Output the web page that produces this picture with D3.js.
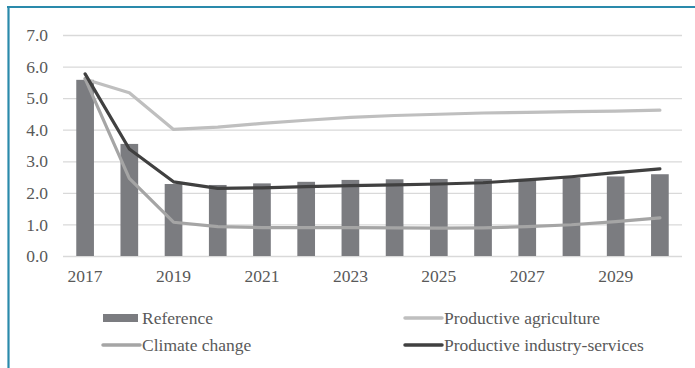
<!DOCTYPE html>
<html>
<head>
<meta charset="utf-8">
<script src="https://cdn.jsdelivr.net/npm/d3@7/dist/d3.min.js"></script>
<style>
  html, body { margin: 0; padding: 0; background: #fff; }
  svg { display: block; }
  svg text { font-family: "Liberation Serif", Tinos, "Times New Roman", "DejaVu Serif", serif !important; fill: #595959; }
</style>
</head>
<body>
<svg id="chart" width="695" height="368"></svg>
<script>
// Years on the category axis
const years = [2017, 2018, 2019, 2020, 2021, 2022, 2023, 2024, 2025, 2026, 2027, 2028, 2029, 2030];
const yTicks = [0, 1, 2, 3, 4, 5, 6, 7];

// Scenario series
const reference = [5.58, 3.55, 2.28, 2.25, 2.30, 2.35, 2.41, 2.43, 2.44, 2.44, 2.44, 2.48, 2.52, 2.59];
const productiveAgriculture = [5.60, 5.17, 4.01, 4.08, 4.20, 4.30, 4.39, 4.45, 4.49, 4.53, 4.55, 4.57, 4.59, 4.62];
const climateChange = [5.62, 2.46, 1.07, 0.93, 0.90, 0.90, 0.90, 0.89, 0.88, 0.89, 0.93, 0.99, 1.09, 1.21];
const productiveIndustry = [5.77, 3.39, 2.35, 2.14, 2.16, 2.20, 2.23, 2.25, 2.28, 2.32, 2.41, 2.51, 2.64, 2.76];

const FONT = '"Liberation Serif", Tinos, "Times New Roman", "DejaVu Serif", serif';
const svg = d3.select("#chart");

// Frame accents along the top and left edges
svg.append("line").attr("x1", 7).attr("x2", 695).attr("y1", 7).attr("y2", 7)
  .attr("stroke", "#2a8aab").attr("stroke-width", 2.2);
svg.append("line").attr("x1", 8.5).attr("x2", 8.5).attr("y1", 6).attr("y2", 368)
  .attr("stroke", "#2a8aab").attr("stroke-width", 2.2);

const plot = { left: 63, right: 682, top: 35, bottom: 256 };

const x = d3.scaleBand().domain(years).range([plot.left, plot.right]).paddingInner(0.6).paddingOuter(0.3);
const xc = d => x(d) + x.bandwidth() / 2;
const y = d3.scaleLinear().domain([0, 7]).range([plot.bottom, plot.top]);

// Horizontal gridlines with value labels
const yAxis = d3.axisLeft(y).tickValues(yTicks).tickFormat(d3.format(".1f"))
  .tickSize(-(plot.right - plot.left)).tickPadding(15);
const gy = svg.append("g").attr("transform", `translate(${plot.left},0)`).call(yAxis)
  .attr("font-family", FONT);
gy.select(".domain").remove();
gy.selectAll(".tick line").attr("stroke", "#d9d9d9").attr("stroke-width", 1.3);
gy.selectAll(".tick text").attr("font-size", "17.5px").attr("fill", "#595959");

// Year labels, every second year
const xAxis = d3.axisBottom(x).tickValues(years.filter((d, i) => i % 2 === 0)).tickSize(0).tickPadding(14);
const gx = svg.append("g").attr("transform", `translate(0,${plot.bottom})`).call(xAxis)
  .attr("font-family", FONT);
gx.select(".domain").remove();
gx.selectAll(".tick text").attr("font-size", "17.5px").attr("fill", "#595959");

// Reference scenario bars
svg.append("g").selectAll("rect").data(years).join("rect")
  .attr("x", d => x(d))
  .attr("width", x.bandwidth())
  .attr("y", (d, i) => y(reference[i]))
  .attr("height", (d, i) => y(0) - y(reference[i]))
  .attr("fill", "#7b7c80");

// Scenario lines
const lineSeries = [
  { values: productiveAgriculture, color: "#bfbfbf" },
  { values: climateChange, color: "#a5a5a5" },
  { values: productiveIndustry, color: "#404040" }
];
const line = d3.line().x((d, i) => xc(years[i])).y(d => y(d));
lineSeries.forEach(s => {
  svg.append("path").datum(s.values)
    .attr("d", line)
    .attr("fill", "none")
    .attr("stroke", s.color)
    .attr("stroke-width", 3.2)
    .attr("stroke-linejoin", "round")
    .attr("stroke-linecap", "round");
});

// Legend
const legend = svg.append("g").attr("font-family", FONT);
const legendItems = [
  { label: "Reference", type: "bar", color: "#7b7c80", x: 103, y: 318 },
  { label: "Productive agriculture", type: "line", color: "#bfbfbf", x: 405, y: 318 },
  { label: "Climate change", type: "line", color: "#a5a5a5", x: 103, y: 345 },
  { label: "Productive industry-services", type: "line", color: "#404040", x: 405, y: 345 }
];
legendItems.forEach(it => {
  if (it.type === "bar") {
    legend.append("rect").attr("x", it.x).attr("y", it.y - 4).attr("width", 35).attr("height", 8)
      .attr("fill", it.color);
  } else {
    legend.append("line").attr("x1", it.x).attr("x2", it.x + 37).attr("y1", it.y).attr("y2", it.y)
      .attr("stroke", it.color).attr("stroke-width", 3.5).attr("stroke-linecap", "round");
  }
  legend.append("text").attr("x", it.x + 39).attr("y", it.y).attr("dy", "0.35em")
    .attr("font-size", "17.5px").text(it.label);
});
</script>
</body>
</html>
